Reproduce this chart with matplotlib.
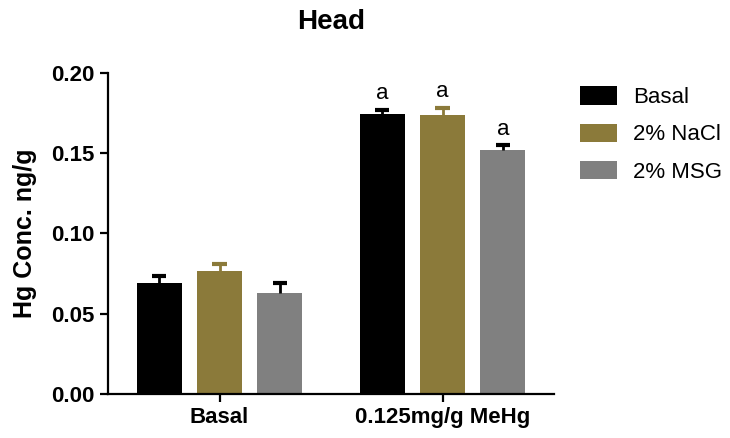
import matplotlib
matplotlib.use("Agg")
import matplotlib.pyplot as plt
import numpy as np

plt.rcParams['font.family'] = ['Liberation Sans', 'DejaVu Sans']

groups = ["Basal", "0.125mg/g MeHg"]
series = ["Basal", "2% NaCl", "2% MSG"]
values = [
    [0.0692, 0.1745],   # Basal
    [0.0766, 0.1738],   # 2% NaCl
    [0.0627, 0.1520],   # 2% MSG
]
errors = [
    [0.0045, 0.0025],
    [0.0042, 0.0046],
    [0.0063, 0.0031],
]
letters = [["", "a"], ["", "a"], ["", "a"]]

colors = ["#000000", "#8B7A3A", "#808080"]
err_colors = ["#000000", "#8B7A3A", "#000000"]

fig = plt.figure(figsize=(7.3, 4.38), dpi=100)
ax = fig.add_axes([0.148, 0.1005, 0.611, 0.7328])

x = np.arange(len(groups))
width = 0.2
step = 0.27
cap = 0.032

for i, name in enumerate(series):
    pos = x + (i - 1) * step
    vals = np.array(values[i])
    tops = vals + np.array(errors[i])
    ax.bar(pos, vals, width, color=colors[i], label=name, zorder=2)
    # upper-only error bars
    ax.vlines(pos, vals, tops, color=err_colors[i], lw=2, zorder=3)
    ax.hlines(tops, pos - cap, pos + cap, color=err_colors[i], lw=3, zorder=3)
    for j in range(len(groups)):
        if letters[i][j]:
            ax.annotate(letters[i][j], (pos[j], tops[j]),
                        xytext=(0, 4), textcoords="offset points",
                        ha="center", va="bottom", fontsize=16)

ax.set_xlim(-0.5, 1.5)
ax.set_ylim(0, 0.2)
ax.set_yticks([0, 0.05, 0.10, 0.15, 0.20])
ax.set_yticklabels(["0.00", "0.05", "0.10", "0.15", "0.20"])
ax.set_xticks(x)
ax.set_xticklabels(groups)

for s in ["top", "right"]:
    ax.spines[s].set_visible(False)
for s in ["left", "bottom"]:
    ax.spines[s].set_linewidth(1.6)

ax.tick_params(axis="both", width=1.6, length=6, labelsize=16)
for lab in ax.get_xticklabels() + ax.get_yticklabels():
    lab.set_fontweight("bold")

ax.set_ylabel("Hg Conc. ng/g", fontsize=18, fontweight="bold")
ax.yaxis.set_label_coords(-0.159, 0.5)

fig.text(331 / 730, 1 - 22 / 438, "Head", ha="center", va="center",
         fontsize=20, fontweight="bold")

ax.legend(loc="upper left", bbox_to_anchor=(1.039, 0.987), frameon=False,
          fontsize=16, handlelength=1.67, handleheight=0.9,
          labelspacing=0.7, handletextpad=0.7, borderaxespad=0)

fig.savefig("out.png", dpi=100)
